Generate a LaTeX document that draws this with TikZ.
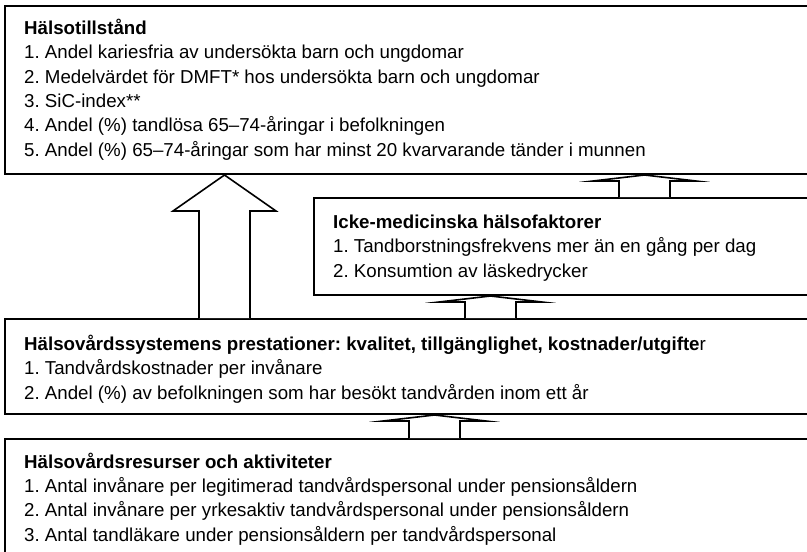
\documentclass[tikz,border=0pt]{standalone}
\usepackage{fontspec}
\setmainfont{Liberation Sans}
\usetikzlibrary{calc}
\frenchspacing
\begin{document}
\begin{tikzpicture}[x=1pt,y=-1pt,
  box/.style={draw, line width=2pt, anchor=north west, inner sep=0pt, fill=white},
  txt/.style={anchor=base west, inner sep=0pt, align=left, font=\fontsize{18.7}{24.3}\selectfont},
  arr/.style={draw, line width=1.6pt, fill=white, line join=miter, miter limit=20}]
\useasboundingbox (0,0) rectangle (807,552);
\clip (0,0) rectangle (807,552);
% boxes
\node[box, minimum width=810pt, minimum height=168pt] (b1) at (4,5) {};
\node[box, minimum width=500pt, minimum height=97pt] (b2) at (313,197) {};
\node[box, minimum width=810pt, minimum height=95pt] (b3) at (4,318) {};
\node[box, minimum width=810pt, minimum height=130pt] (b4) at (4,438) {};
% texts (anchored at the baseline of their last line)
\node[txt] (t1) at (24,156) {\textbf{Hälsotillstånd}\\
1. Andel kariesfria av undersökta barn och ungdomar\\
2. Medelvärdet för DMFT* hos undersökta barn och ungdomar\\
3. SiC-index**\\
4. Andel (\%) tandlösa 65–74-åringar i befolkningen\\
5. Andel (\%) 65–74-åringar som har minst 20 kvarvarande tänder i munnen};
\node[txt] (t2) at (333,277) {\textbf{Icke-medicinska hälsofaktorer}\\
1. Tandborstningsfrekvens mer än en gång per dag\\
2. Konsumtion av läskedrycker};
\node[txt] (t3) at (24,399) {\textbf{Hälsovårdssystemens prestationer: kvalitet, tillgänglighet, kostnader/utgifte}r\\
1. Tandvårdskostnader per invånare\\
2. Andel (\%) av befolkningen som har besökt tandvården inom ett år};
\node[txt] (t4) at (24,541) {\textbf{Hälsovårdsresurser och aktiviteter}\\
1. Antal invånare per legitimerad tandvårdspersonal under pensionsåldern\\
2. Antal invånare per yrkesaktiv tandvårdspersonal under pensionsåldern\\
3. Antal tandläkare under pensionsåldern per tandvårdspersonal};
% x positions of arrows
\coordinate (aL) at (199,0); \coordinate (aR) at (250,0);
\coordinate (aHL) at (173,0); \coordinate (aHR) at (276,0); \coordinate (aT) at (224.5,0);
\coordinate (bL) at (619,0); \coordinate (bR) at (670,0);
\coordinate (bHL) at (593,0); \coordinate (bHR) at (696,0); \coordinate (bT) at (644.5,0);
\coordinate (cL) at (465,0); \coordinate (cR) at (516,0);
\coordinate (cHL) at (439,0); \coordinate (cHR) at (542,0); \coordinate (cT) at (490.5,0);
\coordinate (dL) at (409,0); \coordinate (dR) at (460,0);
\coordinate (dHL) at (383,0); \coordinate (dHR) at (486,0); \coordinate (dT) at (434.5,0);
% big arrow b3 -> b1
\path[arr] (aL |- b3.north) -- ($(aL |- b1.south)+(0,36)$) -- ($(aHL |- b1.south)+(0,36)$) -- (aT |- b1.south)
  -- ($(aHR |- b1.south)+(0,36)$) -- ($(aR |- b1.south)+(0,36)$) -- (aR |- b3.north);
% small arrows
\path[arr] (bL |- b2.north) -- ($(bL |- b1.south)+(0,6)$) -- ($(bHL |- b1.south)+(0,6)$) -- (bT |- b1.south)
  -- ($(bHR |- b1.south)+(0,6)$) -- ($(bR |- b1.south)+(0,6)$) -- (bR |- b2.north);
\path[arr] (cL |- b3.north) -- ($(cL |- b2.south)+(0,6)$) -- ($(cHL |- b2.south)+(0,6)$) -- (cT |- b2.south)
  -- ($(cHR |- b2.south)+(0,6)$) -- ($(cR |- b2.south)+(0,6)$) -- (cR |- b3.north);
\path[arr] (dL |- b4.north) -- ($(dL |- b3.south)+(0,6)$) -- ($(dHL |- b3.south)+(0,6)$) -- (dT |- b3.south)
  -- ($(dHR |- b3.south)+(0,6)$) -- ($(dR |- b3.south)+(0,6)$) -- (dR |- b4.north);
\end{tikzpicture}
\end{document}
